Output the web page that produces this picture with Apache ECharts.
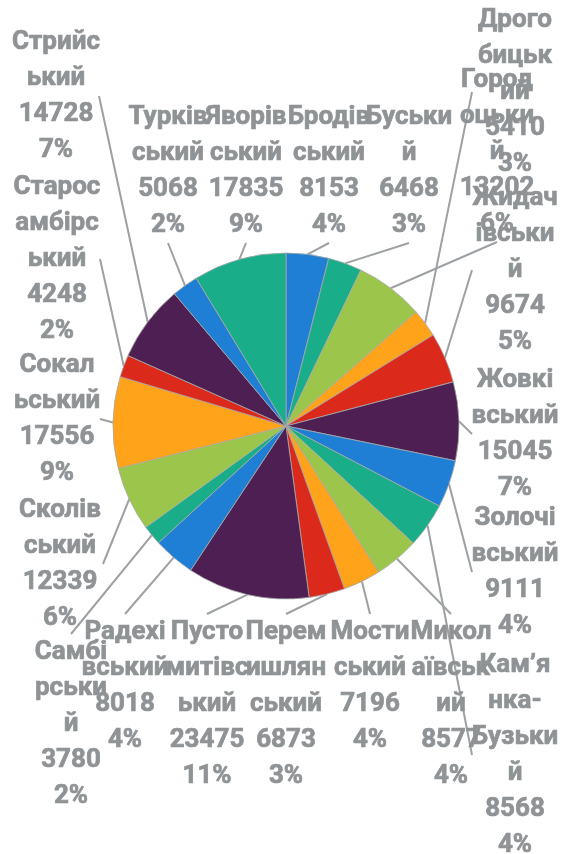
<!DOCTYPE html>
<html>
<head>
<meta charset="utf-8">
<script src="https://cdn.jsdelivr.net/npm/echarts@6/dist/echarts.min.js"></script>
<style>
html,body{margin:0;padding:0;background:#ffffff;}
#chart{width:562px;height:854px;}
</style>
</head>
<body>
<div id="chart"></div>
<script>
// ---- data (clockwise from 12 o'clock) ----
const districts = [
  'Бродівський', 'Буський', 'Городоцький', 'Дрогобицький', 'Жидачівський',
  'Жовківський', 'Золочівський', 'Кам’янка-Бузький', 'Миколаївський', 'Мостиський',
  'Перемишлянський', 'Пустомитівський', 'Радехівський', 'Самбірський', 'Сколівський',
  'Сокальський', 'Старосамбірський', 'Стрийський', 'Турківський', 'Яворівський'
];
const counts = [
  8153, 6468, 13202, 5410, 9674,
  15045, 9111, 8568, 8577, 7196,
  6873, 23475, 8018, 3780, 12339,
  17556, 4248, 14728, 5068, 17835
];
// where each name wraps inside its narrow label box (character indices)
const nameBreaks = [
  [6], [6], [5, 10], [5, 10], [5, 11],
  [5], [6], [5, 9, 15], [5, 11], [5],
  [5, 10], [5, 11], [6], [5, 10], [6],
  [5], [6, 12], [6], [6], [6]
];
// label block placement: [centre x, top y] in px (layout only)
const labelAnchors = [
  [329, 99], [409, 99], [497, 62], [515, 2], [515, 180],
  [515, 362], [515, 500], [515, 647], [451, 614], [370, 614],
  [286, 614], [207, 614], [125, 614], [71, 634], [60, 492],
  [57, 347], [57, 169], [56, 24], [168, 99], [246, 99]
];
const palette = ['#1f7fd5', '#19ad8a', '#9bc64b', '#ffa31a', '#db2a1c', '#4e1f52'];

// ---- layout constants ----
const CX = 286, CY = 426, R = 173;
const LABEL_W = 86;
const LINE_H = 36;
const TEXT_GREY = '#8f9395';

const total = counts.reduce((a, b) => a + b, 0);

function wrapName(name, breaks) {
  const parts = [];
  let prev = 0;
  breaks.forEach(b => { parts.push(name.slice(prev, b)); prev = b; });
  parts.push(name.slice(prev));
  return parts.join('\n');
}

const chart = echarts.init(document.getElementById('chart'), null, { renderer: 'canvas' });

chart.setOption({
  animation: false,
  backgroundColor: '#ffffff',
  color: palette,
  series: [{
    type: 'pie',
    center: [CX, CY],
    radius: R,
    startAngle: 90,
    clockwise: true,
    avoidLabelOverlap: false,
    itemStyle: { borderColor: '#a8a8a8', borderWidth: 0.8 },
    label: {
      show: true,
      position: 'outside',
      color: TEXT_GREY,
      textBorderColor: TEXT_GREY,
      textBorderWidth: 0.7,
      fontFamily: 'Roboto',
      fontWeight: 'bold',
      fontSize: 26,
      lineHeight: LINE_H,
      width: LABEL_W,
      overflow: 'none',
      align: 'center',
      formatter: function (p) {
        const i = p.dataIndex;
        const pct = Math.round(p.value / total * 100);
        return wrapName(p.name, nameBreaks[i]) + '\n' + p.value + '\n' + pct + '%';
      }
    },
    labelLine: {
      show: true,
      length: 10,
      length2: 10,
      lineStyle: { color: '#9da1a3', width: 2 }
    },
    labelLayout: function (params) {
      const i = params.dataIndex;
      const lx = labelAnchors[i][0];
      const top = labelAnchors[i][1];
      const h = params.labelRect.height;
      const box = { l: lx - LABEL_W / 2, r: lx + LABEL_W / 2, t: top, b: top + h };
      const midY = (box.t + box.b) / 2;
      const start = params.labelLinePoints && params.labelLinePoints[0];
      let end;
      if (box.r <= CX - R) end = [box.r, midY];
      else if (box.l >= CX + R) end = [box.l, midY];
      else if (midY < CY) end = [lx, box.b];
      else end = [lx, box.t];
      const out = { x: lx, y: top, align: 'center', verticalAlign: 'top' };
      if (start) out.labelLinePoints = [[start[0], start[1]], end];
      return out;
    },
    data: districts.map((n, i) => ({ name: n, value: counts[i] }))
  }]
});
</script>
</body>
</html>
